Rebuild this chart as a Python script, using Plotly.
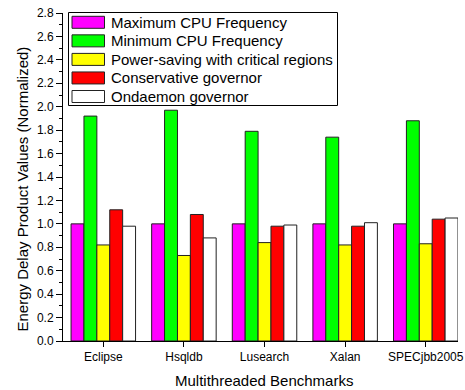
import plotly.graph_objects as go

benchmarks = ["Eclipse", "Hsqldb", "Lusearch", "Xalan", "SPECjbb2005"]
series_names = [
    "Maximum CPU Frequency",
    "Minimum CPU Frequency",
    "Power-saving with critical regions",
    "Conservative governor",
    "Ondaemon governor",
]
max_freq = [1.00, 1.00, 1.00, 1.00, 1.00]
min_freq = [1.92, 1.97, 1.79, 1.74, 1.88]
power_saving = [0.82, 0.73, 0.84, 0.82, 0.83]
conservative = [1.12, 1.08, 0.98, 0.98, 1.04]
ondaemon = [0.98, 0.88, 0.99, 1.01, 1.05]
colors = ["#FF00FF", "#00FF00", "#FFFF00", "#FF0000", "#FFFFFF"]
y_ticks = [0.0, 0.2, 0.4, 0.6, 0.8, 1.0, 1.2, 1.4, 1.6, 1.8, 2.0, 2.2, 2.4, 2.6, 2.8]
x_title = "Multithreaded Benchmarks"
y_title = "Energy Delay Product Values (Normalized)"

values = [max_freq, min_freq, power_saving, conservative, ondaemon]
x_idx = list(range(len(benchmarks)))

W, H = 465, 390
ML, MR, MT, MB = 63, 7, 13, 49
PW, PH = W - ML - MR, H - MT - MB

def px(x):
    return (x - ML) / PW

def py(y):
    return (H - MB - y) / PH

fig = go.Figure()
for name, vals, col in zip(series_names, values, colors):
    fig.add_trace(go.Bar(
        x=x_idx, y=vals, name=name,
        marker=dict(color=col, line=dict(color="#222222", width=1)),
        showlegend=False,
    ))

# Legend (drawn as box + swatches + labels, like the original Origin legend)
shapes = [dict(type="rect", xref="paper", yref="paper",
               x0=px(68.5), x1=px(337.5), y0=py(105.5), y1=py(12.5),
               line=dict(color="black", width=1), fillcolor="white", layer="above")]
annotations = []
row0, step = 22.3, 18.55
for i, (name, col) in enumerate(zip(series_names, colors)):
    cy = row0 + i * step
    shapes.append(dict(type="rect", xref="paper", yref="paper",
                       x0=px(72), x1=px(104.5), y0=py(cy + 6), y1=py(cy - 6),
                       line=dict(color="#222222", width=1), fillcolor=col, layer="above"))
    annotations.append(dict(xref="paper", yref="paper", x=px(109), y=py(cy),
                            xanchor="left", yanchor="middle", text=name, showarrow=False,
                            font=dict(size=15, color="black")))

# Axis titles
annotations.append(dict(xref="paper", yref="paper", x=px(264), y=py(380),
                        xanchor="center", yanchor="middle", text=x_title, showarrow=False,
                        font=dict(size=15, color="black")))
annotations.append(dict(xref="paper", yref="paper", x=px(21.5), y=py(189),
                        xanchor="center", yanchor="middle", text=y_title, showarrow=False,
                        textangle=-90, font=dict(size=15, color="black")))

font_family = "Liberation Sans, Arial, sans-serif"
fig.update_layout(
    width=W, height=H,
    margin=dict(l=ML, r=MR, t=MT, b=MB, autoexpand=False),
    paper_bgcolor="white", plot_bgcolor="white",
    barmode="group", bargap=0.2, bargroupgap=0,
    font=dict(family=font_family, color="black", size=12),
    showlegend=False,
    shapes=shapes,
    annotations=annotations,
    xaxis=dict(
        tickmode="array", tickvals=x_idx, ticktext=benchmarks,
        range=[-0.5, 4.4], automargin=False,
        showline=True, linecolor="black", linewidth=1,
        ticks="outside", ticklen=5, tickcolor="black",
        showgrid=False, zeroline=False,
        tickfont=dict(size=12),
    ),
    yaxis=dict(
        range=[0, 2.8], tickvals=y_ticks, tickformat=".1f", automargin=False,
        showline=True, linecolor="black", linewidth=1,
        ticks="outside", ticklen=6, tickcolor="black",
        minor=dict(dtick=0.1, ticks="outside", ticklen=3, tickcolor="black"),
        showgrid=False, zeroline=False,
        tickfont=dict(size=12),
    ),
)

fig.write_html(
    "out.html",
    config={"displayModeBar": False},
    post_script="document.body.style.margin='0px';document.body.style.overflow='hidden';",
)
